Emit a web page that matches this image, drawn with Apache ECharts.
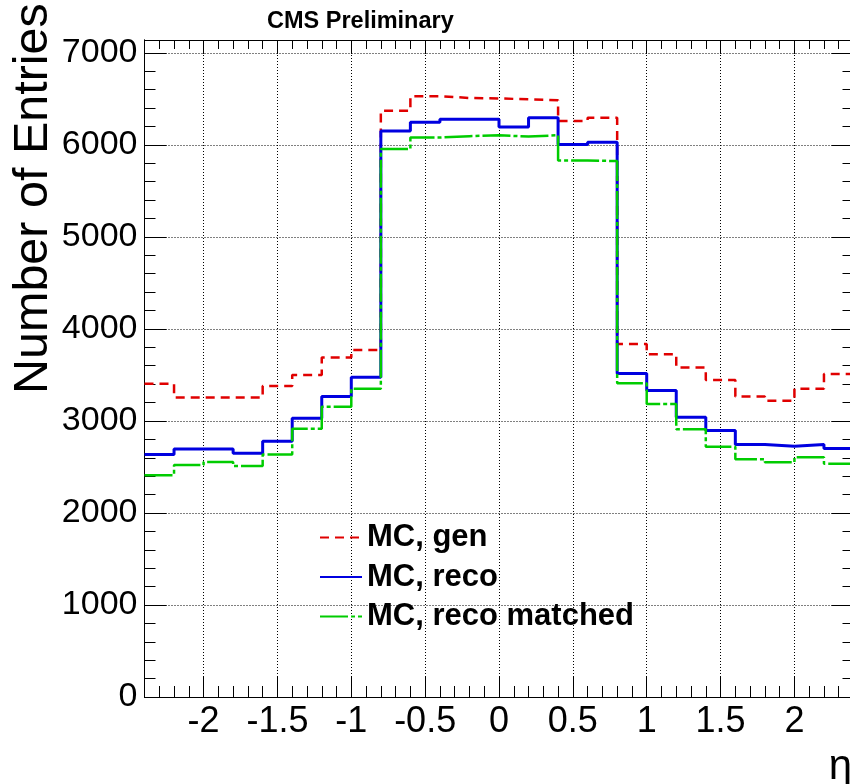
<!DOCTYPE html>
<html>
<head>
<meta charset="utf-8">
<title>CMS Preliminary - eta</title>
<script src="https://cdn.jsdelivr.net/npm/echarts@6/dist/echarts.min.js"></script>
<style>
  html, body { margin: 0; padding: 0; background: #fff; }
  #chart { width: 850px; height: 784px; }
</style>
</head>
<body>
<div id="chart"></div>
<script>
// bin edges in eta (24 bins of 0.2)
var etaEdges = [-2.4, -2.2, -2.0, -1.8, -1.6, -1.4, -1.2, -1.0, -0.8, -0.6, -0.4, -0.2, 0,
                0.2, 0.4, 0.6, 0.8, 1.0, 1.2, 1.4, 1.6, 1.8, 2.0, 2.2, 2.4];
// entries per bin
var mcGen = [3405, 3255, 3255, 3255, 3380, 3500, 3690, 3770, 6370, 6530, 6510, 6505,
             6495, 6485, 6260, 6295, 3835, 3725, 3580, 3445, 3265, 3220, 3350, 3510];
var mcReco = [2635, 2695, 2695, 2650, 2780, 3030, 3265, 3475, 6150, 6245, 6280, 6280,
              6195, 6295, 6005, 6030, 3515, 3330, 3040, 2895, 2745, 2725, 2745, 2700];
var mcRecoMatched = [2410, 2520, 2555, 2510, 2635, 2915, 3155, 3350, 5955, 6080, 6095, 6105,
                     6090, 6105, 5830, 5825, 3410, 3185, 2910, 2720, 2585, 2550, 2605, 2535];
var xMajorTicks = [-2, -1.5, -1, -0.5, 0, 0.5, 1, 1.5, 2];
var seriesNames = ['MC, gen', 'MC, reco', 'MC, reco matched'];

var FONT = 'Liberation Sans, Arial, Helvetica, sans-serif';
var X_MIN = -2.4, X_MAX = 2.4, Y_MIN = 0, Y_MAX = 7140;

// histogram as step line: one point per left edge, plus the last right edge
function histData(vals) {
    return etaEdges.map(function (e, i) {
        return [e, vals[Math.min(i, vals.length - 1)]];
    });
}

function xAxisCfg(pos, major) {
    return {
        type: 'value', position: pos, min: X_MIN, max: X_MAX,
        interval: major ? undefined : 0.1,
        axisLine: { show: true, onZero: false, lineStyle: { color: '#000', width: 1 } },
        axisTick: {
            show: true, inside: true,
            length: major ? (pos === 'bottom' ? 20 : 14) : (pos === 'bottom' ? 11 : 9),
            customValues: major ? xMajorTicks : undefined,
            lineStyle: { color: '#000', width: 1 }
        },
        axisLabel: {
            show: major && pos === 'bottom',
            customValues: major ? xMajorTicks : undefined,
            fontSize: 36, color: '#000', fontFamily: FONT, margin: 7
        },
        splitLine: {
            show: major && pos === 'bottom',
            lineStyle: { color: '#000', width: 1, type: [1, 2] }
        }
    };
}

function yAxisCfg(pos, major) {
    return {
        type: 'value', position: pos, min: Y_MIN, max: Y_MAX,
        interval: major ? 1000 : 200,
        axisLine: { show: true, onZero: false, lineStyle: { color: '#000', width: 1 } },
        axisTick: { show: true, inside: true, length: major ? 22 : 11, lineStyle: { color: '#000', width: 1 } },
        axisLabel: {
            show: major && pos === 'left',
            fontSize: 34, color: '#000', fontFamily: FONT, margin: 7,
            formatter: function (v) { return v % 1000 === 0 ? String(v) : ''; }
        },
        splitLine: {
            show: major && pos === 'left',
            lineStyle: { color: '#000', width: 1, type: [1, 2] }
        }
    };
}

var myChart = echarts.init(document.getElementById('chart'), null, { renderer: 'canvas' });

var option = {
    animation: false,
    backgroundColor: '#fff',
    title: {
        text: 'CMS Preliminary',
        left: 267, top: 10, padding: 0,
        textStyle: { fontSize: 23.5, fontWeight: 'bold', color: '#000', fontFamily: FONT }
    },
    grid: { left: 144.5, right: -3.5, top: 40, bottom: 87, containLabel: false, outerBoundsMode: 'none' },
    legend: {
        orient: 'vertical', left: 319, top: 522, padding: 0,
        itemWidth: 42, itemHeight: 14, itemGap: 8.5,
        data: seriesNames,
        itemStyle: { color: 'rgba(0,0,0,0)', borderWidth: 0, opacity: 0 },
        textStyle: { fontSize: 31, fontWeight: 'bold', color: '#000', fontFamily: FONT, lineHeight: 31 }
    },
    xAxis: [
        xAxisCfg('bottom', false),
        xAxisCfg('bottom', true),
        xAxisCfg('top', false),
        xAxisCfg('top', true)
    ],
    yAxis: [
        yAxisCfg('left', true),
        yAxisCfg('left', false),
        yAxisCfg('right', true),
        yAxisCfg('right', false)
    ],
    graphic: [
        {
            type: 'text', x: 58, y: 394, rotation: Math.PI / 2,
            style: { text: 'Number of Entries', font: '48.5px ' + FONT, fill: '#000', align: 'left', verticalAlign: 'bottom' }
        },
        {
            type: 'text', right: -2, bottom: -4,
            style: { text: 'η', font: '42px ' + FONT, fill: '#000' }
        }
    ],
    series: [
        {
            name: seriesNames[0], type: 'line', step: 'end', symbol: 'none',
            xAxisIndex: 0, yAxisIndex: 0,
            lineStyle: { color: '#e00000', width: 2.5, type: [9, 6] },
            itemStyle: { color: '#e00000' },
            data: histData(mcGen)
        },
        {
            name: seriesNames[1], type: 'line', step: 'end', symbol: 'none',
            xAxisIndex: 0, yAxisIndex: 0,
            lineStyle: { color: '#0000e0', width: 3 },
            itemStyle: { color: '#0000e0' },
            data: histData(mcReco)
        },
        {
            name: seriesNames[2], type: 'line', step: 'end', symbol: 'none',
            xAxisIndex: 0, yAxisIndex: 0,
            lineStyle: { color: '#00cc00', width: 2.5, type: [28, 3, 4, 3] },
            itemStyle: { color: '#00cc00' },
            data: histData(mcRecoMatched)
        }
    ]
};

myChart.setOption(option);
</script>
</body>
</html>
